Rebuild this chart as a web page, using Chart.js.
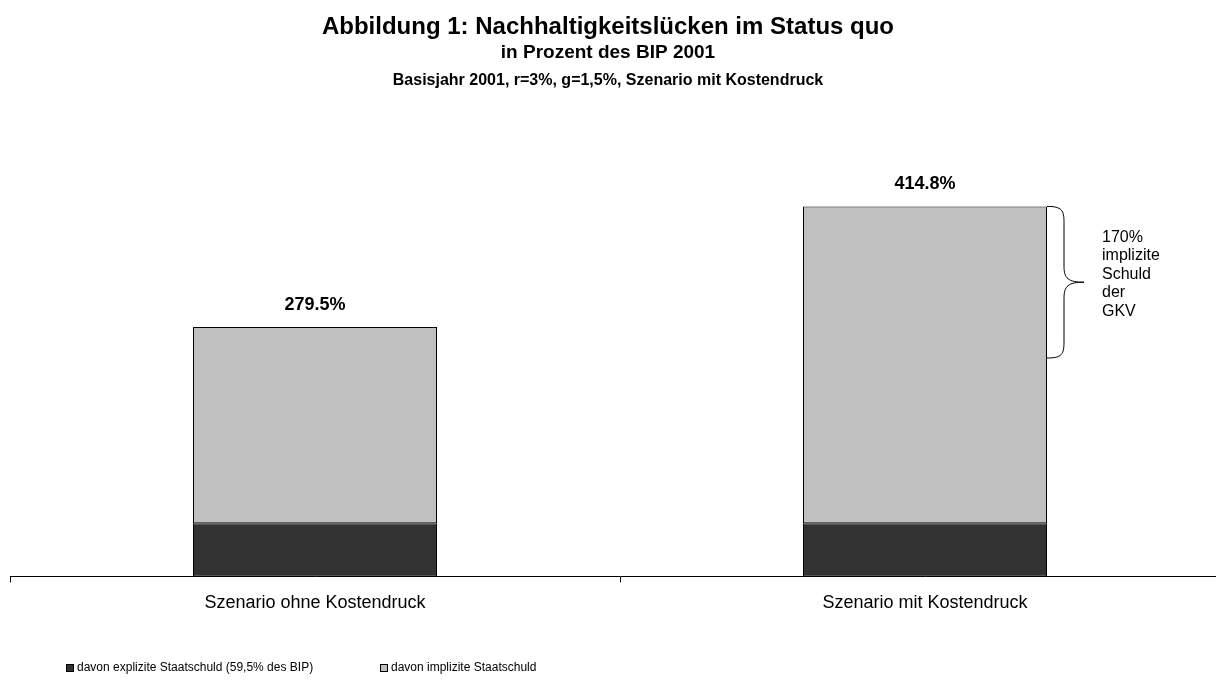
<!DOCTYPE html>
<html>
<head>
<meta charset="utf-8">
<script src="https://cdn.jsdelivr.net/npm/chart.js@4.4.0/dist/chart.umd.min.js"></script>
<style>
    html, body { margin: 0; padding: 0; background: #fff; overflow: hidden; }
    #wrap { width: 1216px; height: 681px; overflow: hidden; }
</style>
</head>
<body>
<div id="wrap"><canvas id="chart" width="1232" height="681"></canvas></div>
<script>
// Data
const categories = ["Szenario ohne Kostendruck", "Szenario mit Kostendruck"];
const explizit = [59.5, 59.5];
const implizit = [220.0, 355.3];
const totals = [279.5, 414.8];
const gkvShare = 170; // bracket next to the second bar
const gkvText = ["170%", "implizite", "Schuld", "der", "GKV"];
const titleLines = [
    "Abbildung 1: Nachhaltigkeitslücken im Status quo",
    "in Prozent des BIP 2001",
    "Basisjahr 2001, r=3%, g=1,5%, Szenario mit Kostendruck",
];

const FONT = "Arial, 'Liberation Sans', sans-serif";
const dark = "#333333";
const light = "#c0c0c0";
const pageWidth = 1216; // visible width, canvas runs a bit past it

// titles, value labels, bracket and legend drawn by hand
const extras = {
    id: "extras",
    afterDraw(c) {
        const ctx = c.ctx;
        const xs = c.scales.x;
        const ys = c.scales.y;
        ctx.save();
        ctx.fillStyle = "#000";
        ctx.textAlign = "center";
        ctx.textBaseline = "middle";

        // title block
        const cx = pageWidth / 2;
        ctx.font = "bold 24px " + FONT;
        ctx.fillText(titleLines[0], cx, 27);
        ctx.font = "bold 19px " + FONT;
        ctx.fillText(titleLines[1], cx, 53);
        ctx.font = "bold 16px " + FONT;
        ctx.fillText(titleLines[2], cx, 81);

        // totals above the bars
        ctx.font = "bold 18px " + FONT;
        totals.forEach((t, i) => {
            const x = xs.getPixelForValue(i);
            const y = ys.getPixelForValue(t);
            ctx.fillText(t.toFixed(1) + "%", x, y - 22);
        });

        // curly bracket on the right of the second bar
        const meta = c.getDatasetMeta(1).data[1];
        const bx = meta.x + meta.width / 2;
        const yTop = ys.getPixelForValue(totals[1]);
        const yBot = ys.getPixelForValue(totals[1] - gkvShare);
        const yMid = (yTop + yBot) / 2;
        const x1 = bx + 17;
        const x2 = bx + 37;
        ctx.strokeStyle = "#000";
        ctx.lineWidth = 1;
        ctx.beginPath();
        ctx.moveTo(bx, yTop);
        ctx.bezierCurveTo(x1 - 2, yTop, x1, yTop + 4, x1, yTop + 16);
        ctx.lineTo(x1, yMid - 16);
        ctx.bezierCurveTo(x1, yMid - 4, x1 + 4, yMid, x2, yMid);
        ctx.bezierCurveTo(x1 + 4, yMid, x1, yMid + 4, x1, yMid + 16);
        ctx.lineTo(x1, yBot - 16);
        ctx.bezierCurveTo(x1, yBot - 4, x1 - 2, yBot, bx, yBot);
        ctx.stroke();

        ctx.font = "16px " + FONT;
        ctx.textAlign = "left";
        gkvText.forEach((s, i) => {
            ctx.fillText(s, bx + 55, yTop + 31 + i * 18.5);
        });

        // legend
        ctx.font = "12px " + FONT;
        const legendX = [66, 380];
        const ly = 668;
        c.data.datasets.forEach((ds, i) => {
            const lx = legendX[i];
            ctx.fillStyle = ds.backgroundColor;
            ctx.fillRect(lx, ly - 4, 8, 8);
            ctx.strokeStyle = "#000";
            ctx.strokeRect(lx + 0.5, ly - 3.5, 7, 7);
            ctx.fillStyle = "#000";
            ctx.fillText(ds.label, lx + 11, ly);
        });
        ctx.restore();
    },
};

new Chart(document.getElementById("chart"), {
    type: "bar",
    data: {
        labels: categories,
        datasets: [
            {
                label: "davon explizite Staatschuld (59,5% des BIP)",
                data: explizit,
                backgroundColor: dark,
                borderColor: "#000",
                borderWidth: 1,
                borderSkipped: false,
                barPercentage: 0.4,
                categoryPercentage: 1,
            },
            {
                label: "davon implizite Staatschuld",
                data: implizit,
                backgroundColor: light,
                borderColor: "#000",
                borderWidth: 1,
                borderSkipped: false,
                barPercentage: 0.4,
                categoryPercentage: 1,
            },
        ],
    },
    options: {
        responsive: false,
        devicePixelRatio: 1,
        animation: false,
        layout: {
            padding: { top: 175, bottom: 57, left: 10, right: 2 },
        },
        scales: {
            x: {
                stacked: true,
                grid: {
                    display: true,
                    drawOnChartArea: false,
                    tickLength: 6,
                    color: "#000",
                    offset: true,
                },
                border: { display: true, color: "#000", width: 1 },
                ticks: {
                    color: "#000",
                    padding: 10,
                    font: { family: FONT, size: 18 },
                },
            },
            y: {
                stacked: true,
                display: false,
                min: 0,
                max: 450,
            },
        },
        plugins: {
            legend: { display: false },
            tooltip: { enabled: false },
        },
    },
    plugins: [extras],
});
</script>
</body>
</html>
